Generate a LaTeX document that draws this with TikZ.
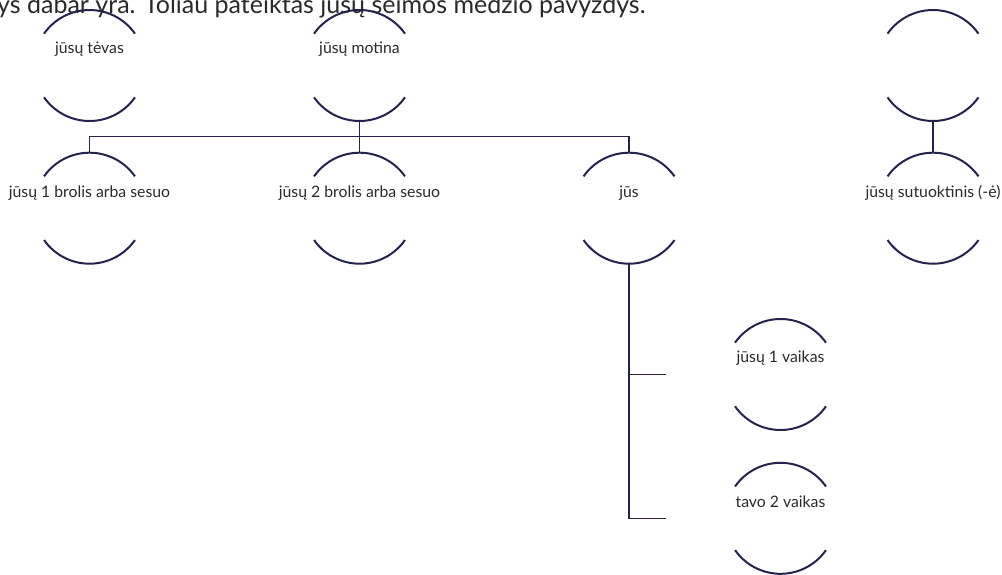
\documentclass[tikz,border=0pt]{standalone}
\usepackage{fontspec}
\setmainfont{Lato}
\usetikzlibrary{calc}
\definecolor{navy}{HTML}{23234C}
\definecolor{ink}{HTML}{2A2A2A}
\tikzset{
  person/.style={circle,minimum size=111pt,inner sep=0pt,outer sep=0pt,draw=none},
  lbl/.style={font=\fontsize{15.8}{18}\selectfont,text=ink,inner sep=0pt,anchor=center},
  rim/.style={draw=navy,line width=2pt},
  link/.style={draw=navy,line width=1.2pt},
}
\newcommand{\rims}[1]{%
  \draw[rim] (#1.145) arc[start angle=145,end angle=35,radius=55.5pt];
  \draw[rim] (#1.215) arc[start angle=215,end angle=325,radius=55.5pt];}
\begin{document}
\begin{tikzpicture}[x=1pt,y=1pt]
\useasboundingbox (0,0) rectangle (1002,-574);
\clip (0,0) rectangle (1002,-574);
\node[anchor=base west,inner sep=0pt,font=\fontsize{25}{28}\selectfont,text=ink] (title) at (-3,-13) {ys dabar yra. Toliau pateiktas jūsų šeimos medžio pavyzdys.};
% people
\node[person] (fa) at (89.5,-65.5) {};
\node[person] (mo) at (359.5,-65.5) {};
\node[person] (sp0) at (933,-65.5) {};
\node[person] (s1) at (89.5,-208.2) {};
\node[person] (s2) at (359.5,-208.2) {};
\node[person] (me) at (629,-208.2) {};
\node[person] (sp) at (933,-208.2) {};
\node[person] (k1) at (780.5,-374.5) {};
\node[person] (k2) at (780.5,-518.3) {};
\foreach \n in {fa,mo,sp0,s1,s2,me,sp,k1,k2}{\rims{\n}}
% labels
\node[lbl] (faL) at ($(fa.center)+(0,16)$) {jūsų tėvas};
\node[lbl] (moL) at ($(mo.center)+(0,16)$) {jūsų motina};
\node[lbl] (s1L) at ($(s1.center)+(0,15.5)$) {jūsų 1 brolis arba sesuo};
\node[lbl] (s2L) at ($(s2.center)+(0,15.5)$) {jūsų 2 brolis arba sesuo};
\node[lbl] (meL) at ($(me.center)+(0,15.5)$) {jūs};
\node[lbl] (spL) at ($(sp.center)+(0,15.5)$) {jūsų sutuoktinis (-ė)};
\node[lbl] (k1L) at ($(k1.center)+(0,16)$) {jūsų 1 vaikas};
\node[lbl] (k2L) at ($(k2.center)+(0,16.5)$) {tavo 2 vaikas};
% connectors
\path (mo.south) -- (s2.north) coordinate[midway] (bar);
\draw[link] (mo.south) -- (s2.north);
\draw[link] (s1.north) |- (bar) -| (me.north);
\draw[link] (sp0.south) -- (sp.north);
\coordinate (k1s) at (666,-374.7);
\coordinate (k2s) at (666,-518.3);
\draw[link] (me.south) |- (k2s);
\draw[link] (k1s) -- (k1s -| me.south);
\end{tikzpicture}
\end{document}
